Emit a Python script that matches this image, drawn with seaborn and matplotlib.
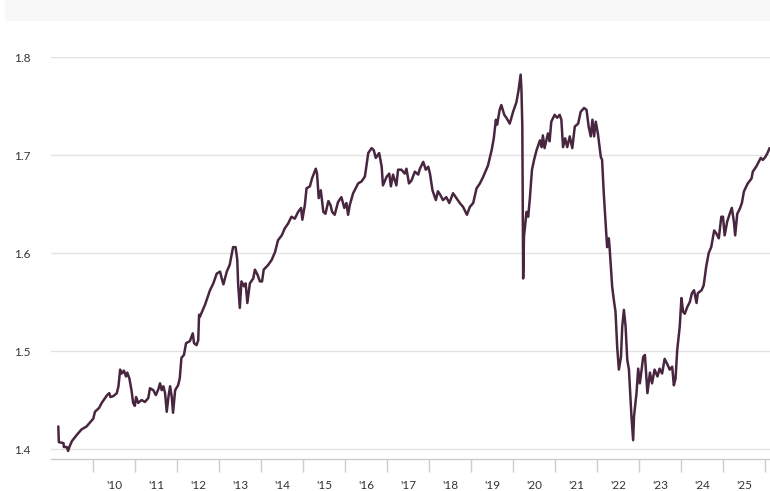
import numpy as np
import pandas as pd
import seaborn as sns
import matplotlib
matplotlib.use("Agg")
from matplotlib import pyplot as plt
from matplotlib.patches import Rectangle
from matplotlib.ticker import FixedLocator, FixedFormatter

# decimal year, value
years = [
    2009.167, 2009.18, 2009.29, 2009.30, 2009.37, 2009.40, 2009.43, 2009.49, 2009.60, 2009.72,
    2009.80, 2009.84, 2009.92, 2010.00, 2010.04, 2010.14, 2010.20, 2010.28, 2010.33, 2010.38,
    2010.41, 2010.48, 2010.56, 2010.60, 2010.64, 2010.68, 2010.73, 2010.78, 2010.81, 2010.86,
    2010.91, 2010.95, 2010.99, 2011.02, 2011.07, 2011.15, 2011.23, 2011.31, 2011.35, 2011.43,
    2011.49, 2011.55, 2011.59, 2011.63, 2011.67, 2011.71, 2011.75, 2011.79, 2011.83, 2011.87,
    2011.90, 2011.95, 2012.02, 2012.06, 2012.10, 2012.16, 2012.21, 2012.30, 2012.37, 2012.40,
    2012.46, 2012.50, 2012.52, 2012.54, 2012.66, 2012.78, 2012.86, 2012.94, 2013.02, 2013.06,
    2013.10, 2013.18, 2013.25, 2013.33, 2013.39, 2013.43, 2013.45, 2013.49, 2013.53, 2013.59,
    2013.63, 2013.67, 2013.73, 2013.81, 2013.85, 2013.91, 2013.97, 2014.02, 2014.06, 2014.17,
    2014.25, 2014.33, 2014.40, 2014.49, 2014.56, 2014.64, 2014.72, 2014.80, 2014.88, 2014.95,
    2014.98, 2015.04, 2015.08, 2015.16, 2015.21, 2015.30, 2015.33, 2015.37, 2015.42, 2015.48,
    2015.53, 2015.60, 2015.65, 2015.69, 2015.75, 2015.83, 2015.91, 2015.98, 2016.03, 2016.07,
    2016.11, 2016.19, 2016.31, 2016.39, 2016.47, 2016.55, 2016.63, 2016.68, 2016.73, 2016.81,
    2016.87, 2016.90, 2016.99, 2017.05, 2017.09, 2017.14, 2017.22, 2017.26, 2017.34, 2017.42,
    2017.46, 2017.52, 2017.58, 2017.66, 2017.74, 2017.78, 2017.86, 2017.92, 2017.98, 2018.02,
    2018.08, 2018.16, 2018.21, 2018.27, 2018.33, 2018.41, 2018.48, 2018.57, 2018.65, 2018.73,
    2018.81, 2018.90, 2018.97, 2019.05, 2019.13, 2019.21, 2019.29, 2019.40, 2019.49, 2019.54,
    2019.59, 2019.62, 2019.68, 2019.72, 2019.79, 2019.84, 2019.92, 2020.00, 2020.08, 2020.13,
    2020.18, 2020.20, 2020.22, 2020.24, 2020.26, 2020.32, 2020.36, 2020.40, 2020.45, 2020.50,
    2020.56, 2020.64, 2020.68, 2020.71, 2020.75, 2020.83, 2020.87, 2020.91, 2020.99, 2021.05,
    2021.11, 2021.15, 2021.19, 2021.24, 2021.29, 2021.35, 2021.41, 2021.47, 2021.55, 2021.61,
    2021.69, 2021.75, 2021.80, 2021.85, 2021.89, 2021.93, 2021.97, 2022.02, 2022.09, 2022.12,
    2022.16, 2022.20, 2022.24, 2022.28, 2022.30, 2022.36, 2022.40, 2022.44, 2022.48, 2022.52,
    2022.57, 2022.60, 2022.64, 2022.68, 2022.72, 2022.76, 2022.82, 2022.86, 2022.88, 2022.94,
    2022.98, 2023.02, 2023.10, 2023.14, 2023.20, 2023.26, 2023.31, 2023.37, 2023.44, 2023.49,
    2023.55, 2023.61, 2023.68, 2023.73, 2023.79, 2023.83, 2023.87, 2023.91, 2023.97, 2024.01,
    2024.05, 2024.09, 2024.15, 2024.21, 2024.26, 2024.31, 2024.37, 2024.40, 2024.49, 2024.54,
    2024.60, 2024.66, 2024.72, 2024.79, 2024.84, 2024.90, 2024.96, 2025.00, 2025.04, 2025.10,
    2025.16, 2025.21, 2025.26, 2025.29, 2025.34, 2025.40, 2025.45, 2025.50, 2025.59, 2025.68,
    2025.71, 2025.79, 2025.85, 2025.90, 2025.95, 2026.01, 2026.06, 2026.11,
]
values = [
    1.423, 1.407, 1.406, 1.402, 1.402, 1.398, 1.402, 1.408, 1.414, 1.420,
    1.422, 1.423, 1.427, 1.431, 1.438, 1.442, 1.447, 1.452, 1.455, 1.457,
    1.453, 1.454, 1.457, 1.464, 1.481, 1.477, 1.480, 1.474, 1.478, 1.472,
    1.460, 1.447, 1.444, 1.453, 1.447, 1.450, 1.448, 1.452, 1.462, 1.460,
    1.455, 1.461, 1.467, 1.460, 1.464, 1.457, 1.438, 1.453, 1.464, 1.453,
    1.437, 1.460, 1.465, 1.472, 1.493, 1.496, 1.508, 1.510, 1.518, 1.508,
    1.506, 1.511, 1.537, 1.535, 1.547, 1.562, 1.569, 1.579, 1.581, 1.574,
    1.568, 1.581, 1.588, 1.606, 1.606, 1.593, 1.569, 1.544, 1.571, 1.566,
    1.569, 1.549, 1.569, 1.574, 1.583, 1.578, 1.571, 1.571, 1.583, 1.588,
    1.593, 1.601, 1.613, 1.618, 1.625, 1.630, 1.637, 1.635, 1.642, 1.646,
    1.634, 1.649, 1.666, 1.668, 1.676, 1.686, 1.681, 1.656, 1.664, 1.642,
    1.640, 1.653, 1.649, 1.642, 1.639, 1.652, 1.657, 1.646, 1.651, 1.639,
    1.649, 1.661, 1.671, 1.673, 1.678, 1.702, 1.707, 1.705, 1.697, 1.702,
    1.688, 1.669, 1.678, 1.681, 1.668, 1.680, 1.669, 1.685, 1.685, 1.681,
    1.686, 1.671, 1.674, 1.683, 1.680, 1.686, 1.693, 1.685, 1.688, 1.681,
    1.664, 1.654, 1.663, 1.659, 1.654, 1.657, 1.651, 1.661, 1.656, 1.651,
    1.647, 1.639, 1.647, 1.651, 1.666, 1.671, 1.678, 1.689, 1.705, 1.717,
    1.736, 1.731, 1.746, 1.751, 1.741, 1.738, 1.732, 1.744, 1.754, 1.766,
    1.782, 1.766, 1.729, 1.574, 1.617, 1.642, 1.637, 1.656, 1.685, 1.695,
    1.705, 1.715, 1.708, 1.720, 1.707, 1.722, 1.714, 1.734, 1.741, 1.738,
    1.741, 1.736, 1.708, 1.717, 1.708, 1.719, 1.707, 1.729, 1.732, 1.744,
    1.748, 1.746, 1.729, 1.719, 1.736, 1.719, 1.734, 1.722, 1.698, 1.695,
    1.661, 1.634, 1.606, 1.615, 1.605, 1.566, 1.552, 1.540, 1.504, 1.481,
    1.494, 1.525, 1.542, 1.525, 1.491, 1.481, 1.433, 1.409, 1.433, 1.457,
    1.482, 1.467, 1.494, 1.496, 1.457, 1.478, 1.467, 1.481, 1.474, 1.482,
    1.477, 1.492, 1.486, 1.481, 1.484, 1.465, 1.472, 1.501, 1.525, 1.554,
    1.540, 1.538, 1.545, 1.550, 1.559, 1.562, 1.549, 1.559, 1.562, 1.567,
    1.586, 1.600, 1.606, 1.623, 1.620, 1.615, 1.637, 1.637, 1.618, 1.632,
    1.640, 1.646, 1.632, 1.618, 1.640, 1.645, 1.651, 1.663, 1.671, 1.676,
    1.683, 1.688, 1.693, 1.697, 1.695, 1.698, 1.702, 1.707,
]
y_ticks = [1.4, 1.5, 1.6, 1.7, 1.8]
label_years = list(range(2010, 2026))
x_labels = [f"'{y % 100:02d}" for y in label_years]

df = pd.DataFrame({"year": years, "value": values})

sns.set_style("white")
plt.rcParams["font.family"] = ["Lato", "DejaVu Sans"]

fig = plt.figure(figsize=(7.7, 4.91), dpi=100)
# light header band
fig.patches.append(Rectangle((5 / 770, 1 - 21 / 491), 1, 21 / 491,
                             transform=fig.transFigure, facecolor="#f8f8f8",
                             edgecolor="none", zorder=0))
ax = fig.add_axes([51.3 / 770, 1 - 459 / 491, 1 - 51.3 / 770, (459 - 57) / 491])

sns.lineplot(data=df, x="year", y="value", ax=ax, sort=False, estimator=None,
             color="#48263f", linewidth=1.8, zorder=3)

ax.set_xlim(2009, 2026.12)
ax.set_ylim(1.4 - 10 / 980, 1.8)
ax.set_xlabel("")
ax.set_ylabel("")

ax.set_yticks(y_ticks)
ax.set_yticklabels([f"{v:.1f}" for v in y_ticks])
ax.grid(axis="y", color="#e3e3e3", linewidth=1)
ax.tick_params(axis="y", length=0, pad=15, labelsize=8.5, labelcolor="#333333")

ax.xaxis.set_major_locator(FixedLocator(list(range(2010, 2027))))
ax.xaxis.set_major_formatter(FixedFormatter([""] * 17))
ax.xaxis.set_minor_locator(FixedLocator([y + 0.5 for y in label_years]))
ax.xaxis.set_minor_formatter(FixedFormatter(x_labels))
ax.tick_params(axis="x", which="major", bottom=True, length=9, width=1,
               color="#cccccc", direction="out")
ax.tick_params(axis="x", which="minor", bottom=True, length=0, pad=15,
               labelsize=8.5, labelcolor="#333333")

for side in ["top", "right", "left"]:
    ax.spines[side].set_visible(False)
ax.spines["bottom"].set_color("#cccccc")
ax.spines["bottom"].set_linewidth(1)

fig.savefig("out.png", dpi=100)
